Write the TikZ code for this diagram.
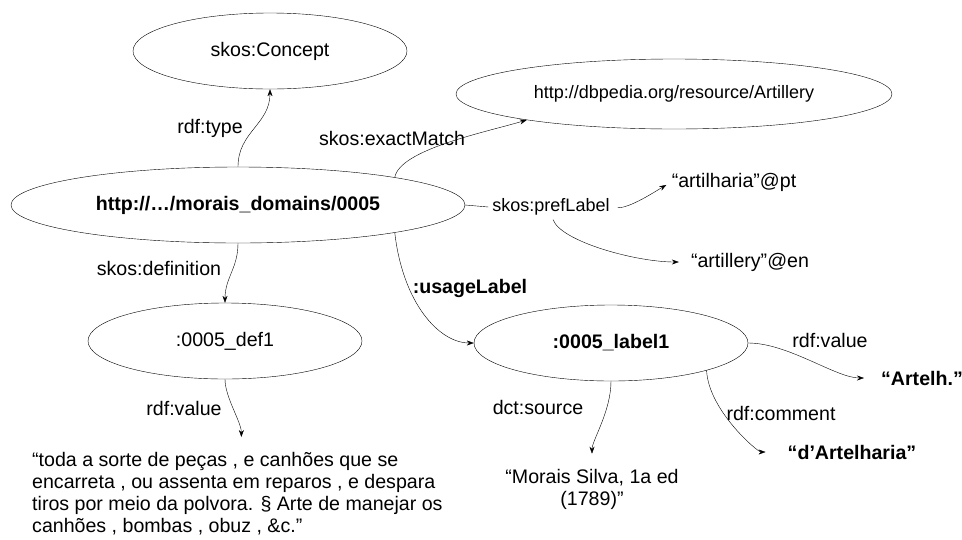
\documentclass[tikz,border=0pt]{standalone}
\usepackage{fontspec}
\setmainfont{Liberation Sans}
\usetikzlibrary{arrows.meta, shapes.geometric}

\begin{document}
\begin{tikzpicture}[x=1pt, y=-1pt, font=\fontsize{19.6}{22}\selectfont,
		ent/.style={draw, ellipse, inner sep=0pt, minimum width=274pt, minimum height=76pt},
		lit/.style={inner sep=0pt},
		small/.style={font=\fontsize{18}{22}\selectfont},
		rel/.style={-{Stealth[length=7pt, width=5pt]}}]
	\useasboundingbox (0, 0) rectangle (962, 539);
	% resources
	\node [ent] (concept) at (270, 51) {skos:Concept};
	\node [ent, minimum width=454pt] (main) at (238, 205) {\textbf{http://…/morais\_domains/0005}};
	\node [ent, small, minimum width=436pt, minimum height=70pt] (dbp) at (674, 94) {http://dbpedia.org/resource/Artillery};
	\node [ent] (def) at (225, 341) {:0005\_def1};
	\node [ent] (usage) at (611, 343) {\textbf{:0005\_label1}};
	% literals
	\node [lit, small, inner sep=4pt] (pref) at (551, 207) {skos:prefLabel};
	\node [lit] (artpt) at (734, 182) {“artilharia”@pt};
	\node [lit] (arten) at (750, 262) {“artillery”@en};
	\node [lit, anchor=north west, align=left] (deftext) at (32, 452)
		{“toda a sorte de peças , e canhões que se\\encarreta , ou assenta em reparos , e despara\\tiros por meio da polvora. § Arte de manejar os\\canhões , bombas , obuz , \&c.”};
	\node [lit] (artelh) at (922, 378) {\textbf{“Artelh.”}};
	\node [lit] (dart) at (852, 452) {\textbf{“d’Artelharia”}};
	\node [lit, align=center] (source) at (592, 489) {“Morais Silva, 1a ed\\(1789)”};
	% property labels
	\node (typelbl) at (210, 128) {rdf:type};
	\node (matchlbl) at (392, 138) {skos:exactMatch};
	\node (deflbl) at (159, 268) {skos:definition};
	\node (usagelbl) at (470, 288) {\textbf{:usageLabel}};
	\node (val1lbl) at (184, 408) {rdf:value};
	\node (val2lbl) at (830, 340) {rdf:value};
	\node (srclbl) at (538, 407) {dct:source};
	\node (cmtlbl) at (781, 413) {rdf:comment};
	% arcs
	\draw [rel] (main.north) .. controls +(0, -35) and +(0, 35) .. (concept.south);
	\draw [rel] (main.10) .. controls +(5, -28) and +(-40, 12) .. (dbp.190);
	\draw (main.east) -- (pref.west);
	\draw [rel, shorten <=4pt, shorten >=6pt] (pref.east) .. controls +(15, 2) and +(-14, 8) .. (artpt.west);
	\draw [rel, shorten >=12pt] ([xshift=2pt]pref.south) .. controls +(8, 22) and +(-55, 0) .. (arten.west);
	\draw [rel] (main.south) .. controls +(0, 25) and +(0, -25) .. (def.north);
	\draw [rel] (main.-10) .. controls +(8, 70) and +(-35, 0) .. (usage.west);
	\draw [rel, shorten >=15pt] (def.south) .. controls +(0, 18) and +(0, -30) .. ([xshift=4pt]deftext.north);
	\draw [rel, shorten >=17pt] (usage.east) .. controls +(40, 0) and +(-45, 0) .. (artelh.west);
	\draw [rel, shorten >=15pt] (usage.south) .. controls +(0, 30) and +(0, -28) .. (source.north);
	\draw [rel, shorten >=22pt] (usage.-16) .. controls +(2, 40) and +(-30, 0) .. (dart.west);
\end{tikzpicture}
\end{document}
